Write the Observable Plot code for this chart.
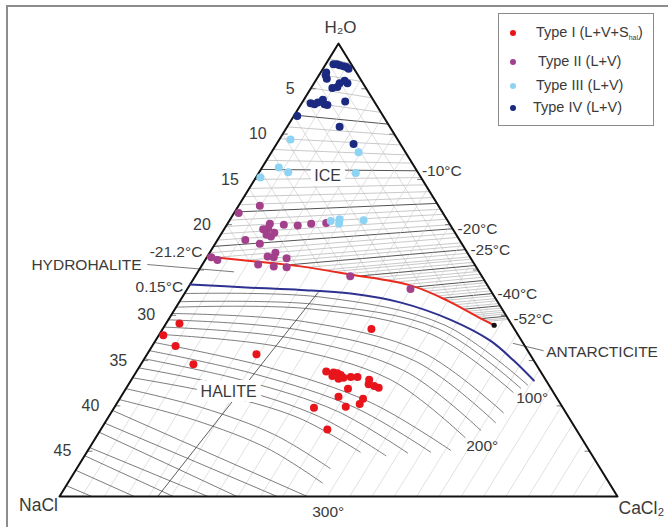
<!DOCTYPE html>
<html><head><meta charset="utf-8">
<script src="https://cdn.jsdelivr.net/npm/d3@7"></script>
<script src="https://cdn.jsdelivr.net/npm/@observablehq/plot@0.6"></script>
<style>
body{margin:0;background:#fff;font-family:"Liberation Sans",Arial,sans-serif;}
#wrap{position:relative;width:668px;height:527px;overflow:hidden;background:#fff}
#chart{position:absolute;left:0;top:0}
#frame{position:absolute;left:6px;top:5px;width:800px;height:800px;border-left:2px solid #8d8d8d;border-top:2px solid #8d8d8d;pointer-events:none}
#legend{position:absolute;left:498px;top:13px;width:154px;height:111px;border:1px solid #8a8a8a;background:#fff;color:#3a3a3a;font-size:14.5px}
.it{position:absolute;white-space:nowrap;line-height:1}
.it sub{font-size:7px;vertical-align:-3px}
.dot{position:absolute;width:6px;height:6px;border-radius:50%}
</style></head>
<body>
<div id="wrap">
  <div id="chart"></div>
  <div id="frame"></div>
  <div id="legend"></div>
</div>
<script>
// ---- data: compositions as [wt% NaCl, wt% CaCl2] ----
const typeI = [[29.7,1.2],[31.8,0.4],[31.3,2.1],[30.7,4.7],[24.5,9.8],[12.8,18.7],[19.2,17.0],[18.6,17.7],[18.9,17.8],[18.3,18.1],[18.1,18.5],[18.5,18.5],[18.0,18.9],[17.3,19.5],[16.7,20.1],[15.8,21.3],[16.1,21.5],[15.7,22.1],[15.4,22.6],[18.2,19.9],[19.5,19.5],[17.4,21.8],[18.0,21.8],[19.4,20.7],[22.3,17.9],[22.3,20.3]];
const typeII = [[16.0,1.9],[18.3,0.4],[16.1,3.8],[14.9,5.1],[13.7,6.4],[12.4,7.5],[11.0,8.8],[17.0,3.5],[16.5,3.9],[16.2,4.7],[17.0,4.1],[16.7,4.6],[19.2,2.5],[18.1,4.0],[18.1,5.4],[17.2,5.9],[17.6,6.0],[16.5,7.2],[19.4,5.0],[18.1,6.5],[17.0,7.7],[23.2,0.4],[22.8,1.1],[11.8,13.9],[7.1,20.0]];
const typeIII = [[9.6,1.0],[4.2,7.8],[12.2,1.5],[11.6,2.6],[14.4,0.4],[5.6,8.7],[9.6,9.8],[9.9,10.0],[7.5,12.0],[10.5,9.1]];
const typeIV = [[1.6,0.7],[1.3,1.0],[1.1,1.3],[0.8,1.7],[0.6,2.0],[0.5,2.3],[2.7,0.5],[2.9,0.6],[3.0,0.9],[2.1,2.3],[2.5,2.3],[3.0,1.9],[1.5,2.6],[1.4,3.0],[5.8,0.8],[5.5,1.2],[5.1,1.4],[4.5,1.7],[4.6,2.1],[4.4,2.4],[2.6,3.8],[7.7,0.3],[4.5,4.7],[4.2,6.9]];
const seriesNames = ["Type I (L+V+S<sub>hal</sub>)","Type II (L+V)","Type III (L+V)","Type IV (L+V)"];

// ice-liquidus isotherms: T (°C), wt% NaCl on H2O-NaCl side, wt% CaCl2 on H2O-CaCl2 side
const iceT = [-1,-2,-3,-4,-5,-6,-7,-8,-9,-10,-11,-12,-13,-14,-15,-16,-17,-18,-19,-20,-21,-22,-23,-24,-25,-26,-27,-28,-29,-30,-31,-32,-33,-34,-35,-36,-37,-38,-39,-40,-41,-42,-43,-44,-45,-46,-47,-48,-49,-50,-51,-52];
const iceNaCl = [1.7,3.4,4.9,6.4,7.9,9.2,10.5,11.7,12.9,13.9,15.0,16.0,16.9,17.8,18.6,19.5,20.2,21.0,21.7,22.4,23.1,23.7,24.3,24.8,25.3,25.8,26.3,26.6,27.0,27.4,27.8,28.2,28.6,29.0,29.4,29.7,30.0,30.4,30.7,31.0,31.3,31.6,31.9,32.2,32.5,32.8,33.0,33.3,33.5,33.8,34.0,34.2];
const iceCaCl2 = [2.2,4.2,6.0,7.6,8.9,10.1,11.2,12.3,13.2,14.05,14.8,15.6,16.35,17.0,17.65,18.3,18.85,19.4,20.0,20.45,20.95,21.4,22.0,22.35,22.75,23.15,23.55,23.8,24.15,24.5,24.8,25.15,25.45,25.8,26.15,26.4,26.7,27.0,27.3,27.6,27.85,28.15,28.4,28.7,28.95,29.2,29.45,29.65,29.85,30.1,30.3,30.45];
const labelledIce = [-10,-20,-25,-40,-52];

// cotectic curves
const iceHydrohalite = [[23.5,0],[19.9,4.1],[15.7,8.9],[11.7,13.8],[6.9,19.8],[4.4,24.0],[2.45,27.9],[1.6,29.5]];
const haliteHydrohalite = [[26.6,0],[21.35,5.6],[17.0,10.2],[12.7,14.9],[8.7,19.9],[5.2,25.3],[2.8,30.0],[1.8,33.2],[1.1,36.1]];

// halite-liquidus isotherms
const haliteIsotherms = [
 [[27.6,0],[15.5,12.5],[6.0,25.1],[1.9,35.8]],
 [[28.5,0],[16.4,12.4],[6.8,24.7],[2.7,35.35]],
 [[29.1,0],[17.1,12.2],[7.7,24.4],[3.6,34.9]],
 [[29.8,0],[18.4,12.3],[9.5,24.6],[5.6,35.15]],
 [[30.5,0],[19.4,12.2],[10.6,24.5],[6.85,35.0]],
 [[31.3,0],[20.6,11.9],[12.2,23.9],[8.6,34.1]],
 [[32.1,0],[21.9,11.6],[13.9,23.2],[10.4,33.1]],
 [[33.0,0],[24.3,11.4],[16.9,22.75],[12.4,32.5]],
 [[33.9,0],[25.7,10.8],[18.6,21.6],[14.3,30.8]],
 [[34.8,0],[27.1,10.1],[20.4,20.2],[16.4,28.8]],
 [[35.8,0],[28.5,9.45],[22.3,18.9],[18.5,27.0]],
 [[36.9,0],[30.1,8.6],[24.2,17.15],[20.6,24.5]],
 [[38.1,0],[32.3,7.9],[27.3,15.9],[24.2,22.7]],
 [[39.3,0],[33.6,8.0],[28.7,16.0],[25.7,22.8]],
 [[40.5,0],[27.8,22.2]],
 [[41.9,0],[30.5,19.5]],
 [[42.9,0],[34.1,15.9]],
 [[44.6,0],[36.7,13.3]],
 [[45.5,0],[39.8,10.2]],
 [[47.1,0],[43.3,6.7]],
 [[48.8,0],[47.1,2.9]]
];
const haliteLabels = [{text:"100°", arc:2},{text:"200°", arc:6},{text:"300°", arc:14}];
const haliteDivide = [[15.6,11.9],[41.2,8.8]];
const salinityTicks = [5,10,15,20,30,35,40,45];
const gridSteps = [2,4,6,8,10,12,14,16,18,20,22,24,26,28,30,32,34,36,38,40,42,44,46,48];
const edgeTicks = [5,10,15,20,25,30,35,40,45];

// ---- ternary projection (total salt 0..50 wt%) ----
const X = (n, c) => 50 + c - n;
const Y = (n, c) => n + c;
const px = d => X(d[0], d[1]), py = d => Y(d[0], d[1]);

const iceRows = iceT.map((T, i) => ({T, L: iceNaCl[i], R: iceCaCl2[i]}));
const arcRows = haliteIsotherms.flatMap((a, id) => a.map(p => ({id, n: p[0], c: p[1]})));
const whitePoly = [...iceHydrohalite, [0,30.8], [0,50], [50,0]];
const FONT = "Liberation Sans, Arial, sans-serif";
const TXT = "#3a3a3a";
const txt = (data, o) => Plot.text(data, {fontFamily: FONT, fill: TXT, fontSize: 15.5, ...o});
const at = (n, c, text, o) => txt([text], {x: () => X(n, c), y: () => Y(n, c), text: d => d, ...o});

const colors = ["#e8141c", "#a3408c", "#8dd3f3", "#1b2a80"];

const chart = Plot.plot({
  width: 668, height: 527,
  marginLeft: 59, marginRight: 51, marginTop: 43, marginBottom: 31,
  x: {domain: [0, 100], axis: null},
  y: {domain: [0, 50], reverse: true, axis: null},
  style: {background: "transparent", fontFamily: FONT},
  marks: [
    Plot.link(gridSteps, {x1: k => X(k,0), y1: k => Y(k,0), x2: k => X(k,50-k), y2: k => Y(k,50-k), stroke: "#c9c9c9", strokeWidth: 0.6}),
    Plot.link(iceRows.filter(d => d.T % 5 !== 0), {x1: d => X(d.L,0), y1: d => Y(d.L,0), x2: d => X(0,d.R), y2: d => Y(0,d.R), stroke: "#9c9c9c", strokeWidth: 0.55}),
    Plot.link(iceRows.filter(d => d.T % 5 === 0), {x1: d => X(d.L,0), y1: d => Y(d.L,0), x2: d => X(0,d.R), y2: d => Y(0,d.R), stroke: "#3f3f3f", strokeWidth: 0.9}),
    Plot.line(whitePoly, {x: px, y: py, curve: "linear-closed", fill: "white", stroke: "none"}),
    Plot.link(gridSteps, {x1: k => X(0,k), y1: k => Y(0,k), x2: k => X(50-k,k), y2: k => Y(50-k,k), stroke: "#cdcdcd", strokeWidth: 0.6}),
    Plot.line(arcRows, {x: d => X(d.n,d.c), y: d => Y(d.n,d.c), z: "id", curve: "catmull-rom", stroke: "#5c5c5c", strokeWidth: 0.8}),
    Plot.line(haliteDivide, {x: px, y: py, stroke: "#4d4d4d", strokeWidth: 0.9}),
    Plot.line([[29.3,-4.9],[22.0,3.2]], {x: px, y: py, stroke: "#6a6a6a", strokeWidth: 0.9}),
    Plot.line([[0.9,32.2],[-1.4,35.3]], {x: px, y: py, stroke: "#6a6a6a", strokeWidth: 0.9}),
    Plot.link(edgeTicks, {x1: k => X(k,0), y1: k => Y(k,0), x2: k => X(k-0.45,0.45), y2: k => Y(k-0.45,0.45), stroke: "#555", strokeWidth: 0.8}),
    Plot.link(edgeTicks, {x1: k => X(0,k), y1: k => Y(0,k), x2: k => X(0.45,k-0.45), y2: k => Y(0.45,k-0.45), stroke: "#555", strokeWidth: 0.8}),
    Plot.line([[0,0],[50,0],[0,50]], {x: px, y: py, curve: "linear-closed", stroke: "#111", strokeWidth: 2}),
    Plot.line(iceHydrohalite, {x: px, y: py, curve: "catmull-rom", stroke: "#ea2a1f", strokeWidth: 2}),
    Plot.line(haliteHydrohalite, {x: px, y: py, curve: "catmull-rom", stroke: "#2e3190", strokeWidth: 2}),
    Plot.dot([iceHydrohalite[iceHydrohalite.length-1]], {x: px, y: py, r: 2.6, fill: "#111"}),
    at(8.3, 6.35, "ICE", {fontSize: 16, stroke: "white", strokeWidth: 10}),
    at(29.1, 9.4, "HALITE", {fontSize: 16, stroke: "white", strokeWidth: 10}),
    txt(haliteLabels.filter(d => d.arc === 2), {x: d => px(haliteIsotherms[d.arc].at(-1)), y: d => py(haliteIsotherms[d.arc].at(-1)), text: "text", textAnchor: "start", dx: 3, dy: 6}),
    txt(haliteLabels.filter(d => d.arc === 6), {x: d => px(haliteIsotherms[d.arc].at(-1)), y: d => py(haliteIsotherms[d.arc].at(-1)), text: "text", textAnchor: "start", dx: 1, dy: 8}),
    txt(haliteLabels.filter(d => d.arc === 14), {x: d => px(haliteIsotherms[d.arc].at(-1)), y: d => py(haliteIsotherms[d.arc].at(-1)), text: "text", textAnchor: "start", dx: 5, dy: 16}),
    Plot.dot(typeI, {x: px, y: py, r: 4, fill: colors[0]}),
    Plot.dot(typeII, {x: px, y: py, r: 4, fill: colors[1]}),
    Plot.dot(typeIII, {x: px, y: py, r: 4, fill: colors[2]}),
    Plot.dot(typeIV, {x: px, y: py, r: 4, fill: colors[3]}),
    txt(salinityTicks, {x: s => X(s,0), y: s => Y(s,0), text: s => String(s), textAnchor: "end", dx: -16, fontSize: 16}),
    txt(labelledIce, {x: t => X(0, iceCaCl2[iceT.indexOf(t)]), y: t => Y(0, iceCaCl2[iceT.indexOf(t)]), text: t => `${t}°C`, textAnchor: "start", dx: 5}),
    at(23.5, 0, "-21.2°C", {textAnchor: "end", dx: -5, dy: -4}),
    at(26.6, 0, "0.15°C", {textAnchor: "end", dx: -7, dy: 3}),
    at(29.3, -4.9, "HYDROHALITE", {textAnchor: "end", dx: -6, dy: 0}),
    at(-1.4, 35.3, "ANTARCTICITE", {textAnchor: "start", dx: 3, dy: 1}),
    at(0, 0, "H₂O", {fontSize: 17, dx: 2, dy: -16}),
    at(50, 0, "NaCl", {fontSize: 17.5, dx: -21, dy: 9}),
    at(0, 50, "CaCl₂", {fontSize: 17.5, textAnchor: "start", dx: 1, dy: 12})
  ]
});
document.getElementById("chart").appendChild(chart);

const lg = document.getElementById("legend");
const rowsY = [19, 48, 72, 94], textX = [37, 39, 37, 34];
seriesNames.forEach((name, i) => {
  const d = document.createElement("span");
  d.className = "dot"; d.style.background = colors[i];
  d.style.left = (14 - 3) + "px"; d.style.top = (rowsY[i] - 3) + "px";
  lg.appendChild(d);
  const t = document.createElement("span");
  t.className = "it"; t.innerHTML = name;
  t.style.left = textX[i] + "px"; t.style.top = (rowsY[i] - 8) + "px";
  lg.appendChild(t);
});
</script>
</body></html>
